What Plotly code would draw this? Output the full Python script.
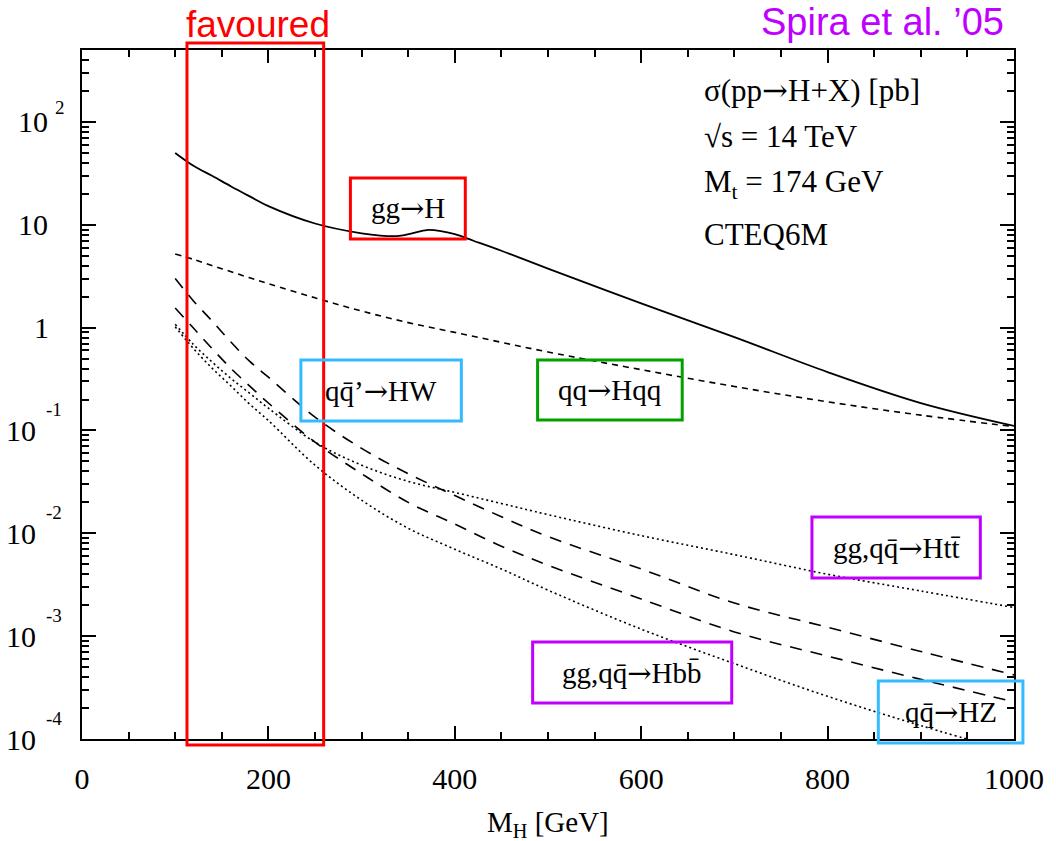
import plotly.graph_objects as go

# ---------------- data ----------------
MH = [100, 120, 140, 160, 180, 200, 250, 300, 350, 400, 450, 500, 600, 700, 800, 900, 1000]
MH_GG = [100, 120, 140, 160, 180, 200, 250, 300, 320, 340, 355, 370, 385, 400, 420, 450,
         500, 600, 700, 800, 900, 1000]

SIG_GG_H = [50, 37.3, 29.8, 23.6, 18.9, 15.2, 10.3, 8.25, 7.85, 7.8, 8.3, 8.9, 8.7, 8.1, 7.0, 5.6,
            3.75, 1.72, 0.81, 0.37, 0.185, 0.111]
SIG_QQ_HQQ = [5.2, 4.6, 4.0, 3.5, 3.05, 2.68, 1.95, 1.45, 1.12, 0.9, 0.72, 0.58, 0.39, 0.268,
              0.19, 0.141, 0.109]
SIG_HW = [3.0, 1.8, 1.15, 0.72, 0.47, 0.33, 0.135, 0.067, 0.038, 0.0233, 0.0145, 0.0093,
          0.0045, 0.0021, 0.00122, 0.00071, 0.00042]
SIG_HZ = [1.55, 0.98, 0.62, 0.40, 0.27, 0.185, 0.077, 0.038, 0.020, 0.0123, 0.0075, 0.0049,
          0.0023, 0.0011, 0.00064, 0.00038, 0.00023]
SIG_HTT = [1.08, 0.68, 0.46, 0.32, 0.23, 0.165, 0.077, 0.046, 0.032, 0.025, 0.0195, 0.0152,
           0.0095, 0.0062, 0.0040, 0.00275, 0.0019]
SIG_HBB = [1.02, 0.62, 0.40, 0.27, 0.18, 0.125, 0.046, 0.021, 0.0112, 0.0070, 0.0045, 0.0028,
           0.00117, 0.00054, 0.00026, 0.000135, 0.000074]

X_TICKS = [0, 200, 400, 600, 800, 1000]
Y_TICK_EXP = [2, 1, 0, -1, -2, -3, -4]
Y_TICK_BASE = ["10", "10", "1", "10", "10", "10", "10"]
Y_TICK_SUP = ["2", "", "", "-1", "-2", "-3", "-4"]

INFO_LINES = ["σ(pp→H+X) [pb]", "√s = 14 TeV", "M<sub>t</sub> = 174 GeV", "CTEQ6M"]

PROCESS_LABELS = ["gg→H", "qq\u0304’→HW", "qq→Hqq", "gg,qq\u0304→Htt\u0304",
                  "gg,qq\u0304→Hbb\u0304", "qq\u0304→HZ"]

# ---------------- layout helpers (pixel geometry) ----------------
W, H = 1056, 841
L, R, T, B = 82, 1023, 50, 739


def px_x(p):
    return (p - L) / (R - L)


def px_y(p):
    return (B - p) / (B - T)


def fix_arrow(s):
    # the serif font's arrow glyph is tiny; draw the arrow with a fuller glyph
    return s.replace("→", '<span style="font-family:DejaVu Serif">→</span>')


SERIF = "Liberation Serif"
SANS = "Liberation Sans"
RED = "#ff0000"
PURPLE = "#c000ff"
CYAN = "#33bbff"
GREEN = "#00a000"

fig = go.Figure()

curves = [
    (MH_GG, SIG_GG_H, "solid", 1.8),
    (MH, SIG_QQ_HQQ, "6px,5px", 1.6),
    (MH, SIG_HW, "12px,9px", 1.6),
    (MH, SIG_HZ, "12px,9px", 1.6),
    (MH, SIG_HTT, "2px,3px", 1.6),
    (MH, SIG_HBB, "2px,3px", 1.6),
]
for xs, ys, dash, w in curves:
    fig.add_trace(go.Scatter(x=xs, y=ys, mode="lines",
                             line=dict(color="black", width=w, dash=dash,
                                       shape="spline", smoothing=1.0),
                             showlegend=False, hoverinfo="skip"))

shapes = []
annotations = []

# favoured band
shapes.append(dict(type="rect", xref="paper", yref="paper",
                   x0=px_x(188), x1=px_x(326), y0=px_y(745), y1=px_y(43),
                   line=dict(color=RED, width=3)))
annotations.append(dict(text="favoured", xref="paper", yref="paper",
                        x=px_x(260), y=px_y(25), xanchor="center", yanchor="middle",
                        showarrow=False, font=dict(family=SANS, size=37, color=RED)))
annotations.append(dict(text="Spira et al. ’05", xref="paper", yref="paper",
                        x=px_x(890), y=px_y(22), xanchor="center", yanchor="middle",
                        showarrow=False, font=dict(family=SANS, size=38, color=PURPLE)))

# process boxes: (x0, x1, y0, y1) in pixels, colour
boxes = [
    (353, 469, 178, 239, RED),
    (303, 465, 360, 421, CYAN),
    (542, 688, 360, 420, GREEN),
    (819, 989, 517, 578, PURPLE),
    (537, 738, 642, 703, PURPLE),
    (886, 1032, 681, 743, CYAN),
]
for (x0, x1, y0, y1, col), lab in zip(boxes, PROCESS_LABELS):
    shapes.append(dict(type="rect", xref="paper", yref="paper",
                       x0=px_x(x0), x1=px_x(x1), y0=px_y(y1), y1=px_y(y0),
                       line=dict(color=col, width=3)))
    annotations.append(dict(text=fix_arrow(lab), xref="paper", yref="paper",
                            x=px_x((x0 + x1) / 2), y=px_y((y0 + y1) / 2),
                            xanchor="center", yanchor="middle", showarrow=False,
                            font=dict(family=SERIF, size=29, color="black")))

# info text block
info_y = [90, 136, 184, 235]
for txt, yy in zip(INFO_LINES, info_y):
    annotations.append(dict(text=fix_arrow(txt), xref="paper", yref="paper",
                            x=px_x(708), y=px_y(yy), xanchor="left", yanchor="middle",
                            showarrow=False, font=dict(family=SERIF, size=31, color="black")))

# y tick labels
for e, base, sup in zip(Y_TICK_EXP, Y_TICK_BASE, Y_TICK_SUP):
    if e >= 1:
        bx = 15
    elif e == 0:
        bx = 32
    else:
        bx = 3
    annotations.append(dict(text=base, xref="paper", yref="y", x=px_x(bx), y=e,
                            xanchor="left", yanchor="middle", showarrow=False,
                            font=dict(family=SERIF, size=30, color="black")))
    if sup:
        sx = 53 if e > 0 else 44
        sh = 14 if e > 0 else 21
        annotations.append(dict(text=sup, xref="paper", yref="y", x=px_x(sx), y=e,
                                xanchor="left", yanchor="middle", yshift=sh, showarrow=False,
                                font=dict(family=SERIF, size=19, color="black")))

# x axis title
annotations.append(dict(text="M<sub>H</sub> [GeV]", xref="paper", yref="paper",
                        x=0.5, y=px_y(824), xanchor="center", yanchor="middle",
                        showarrow=False, font=dict(family=SERIF, size=29, color="black")))

fig.update_layout(
    width=W, height=H,
    margin=dict(l=L, r=W - R, t=T, b=H - B, pad=0),
    paper_bgcolor="white", plot_bgcolor="white",
    shapes=shapes, annotations=annotations,
    xaxis=dict(range=[0, 1000], showgrid=False, zeroline=False,
               showline=True, linecolor="black", linewidth=2, mirror="ticks",
               ticks="inside", ticklen=13, tickwidth=1.5, tickcolor="black",
               tickmode="array", tickvals=X_TICKS, ticktext=[str(v) for v in X_TICKS],
               tickfont=dict(family=SERIF, size=30, color="black"),
               ticklabelstandoff=12,
               minor=dict(ticks="inside", ticklen=7, tickwidth=1.5, tickcolor="black",
                          dtick=50, tick0=0, showgrid=False)),
    yaxis=dict(type="log", range=[-4, 2.7], showgrid=False, zeroline=False,
               showline=True, linecolor="black", linewidth=2, mirror="ticks",
               ticks="inside", ticklen=14, tickwidth=1.5, tickcolor="black",
               tickmode="linear", tick0=0, dtick=1, showticklabels=False,
               minor=dict(ticks="inside", ticklen=7, tickwidth=1.5, tickcolor="black",
                          dtick="D1", showgrid=False)),
)

fig.write_html("out.html")
